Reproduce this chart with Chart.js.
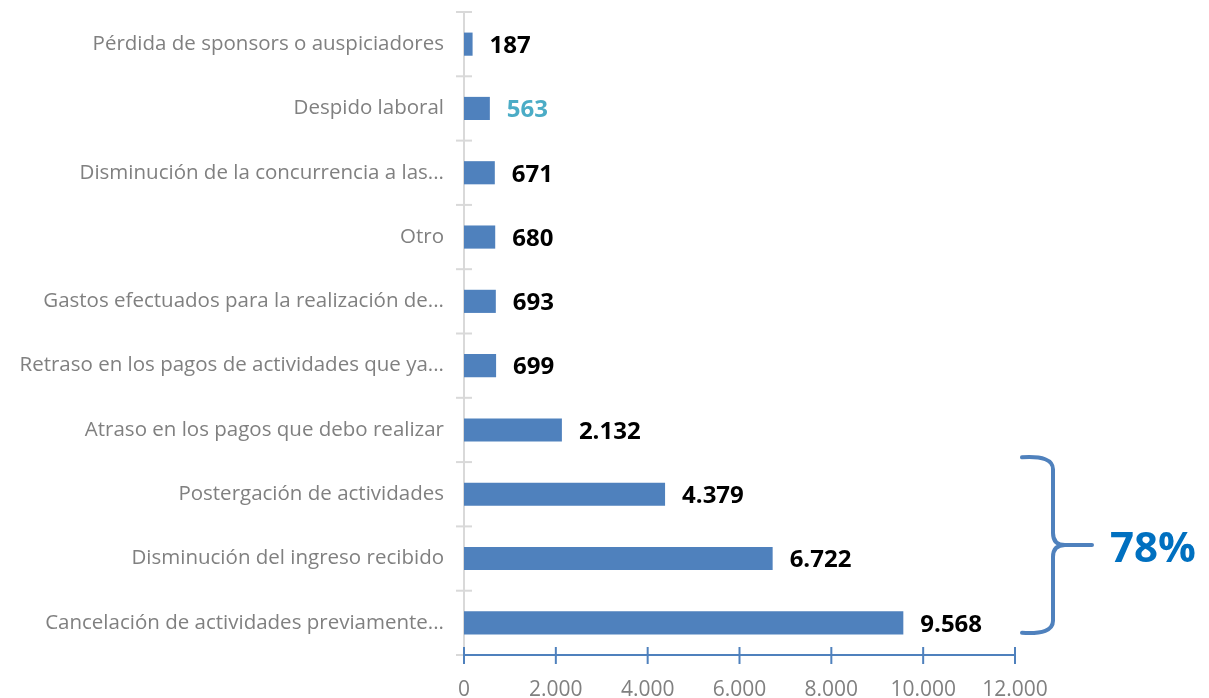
<!DOCTYPE html>
<html>
<head>
<meta charset="utf-8">
<script src="https://cdn.jsdelivr.net/npm/chart.js@4/dist/chart.umd.min.js"></script>
<style>
  html, body { margin: 0; padding: 0; background: #fff; }
  #wrap { width: 1209px; height: 698px; }
</style>
</head>
<body>
<div id="wrap"><canvas id="chart" width="1209" height="698"></canvas></div>
<script>
// categories, top to bottom
const categories = [
    "Pérdida de sponsors o auspiciadores",
    "Despido laboral",
    "Disminución de la concurrencia a las...",
    "Otro",
    "Gastos efectuados para la realización de...",
    "Retraso en los pagos de actividades que ya...",
    "Atraso en los pagos que debo realizar",
    "Postergación de actividades",
    "Disminución del ingreso recibido",
    "Cancelación de actividades previamente..."
];
const values = [187, 563, 671, 680, 693, 699, 2132, 4379, 6722, 9568];
const xTicks = [0, 2000, 4000, 6000, 8000, 10000, 12000];
const bracedShare = "78%";

const barBlue = '#4F81BD';
const axisGrey = '#D9D9D9';
const textGrey = '#808080';

function fmt(n) {
    return String(n).replace(/\B(?=(\d{3})+(?!\d))/g, '.');
}

// value labels beside bars
const valueLabels = {
    id: 'valueLabels',
    afterDatasetsDraw(chart) {
        const ctx = chart.ctx;
        const meta = chart.getDatasetMeta(0);
        ctx.save();
        ctx.font = 'bold 24px "Open Sans"';
        ctx.textAlign = 'left';
        ctx.textBaseline = 'middle';
        meta.data.forEach((bar, i) => {
            ctx.fillStyle = i === 1 ? '#4BACC6' : '#000';
            ctx.fillText(fmt(values[i]), bar.x + 17, bar.y + 2);
        });
        ctx.restore();
    }
};

// crossing tick marks on both axes
const crossTicks = {
    id: 'crossTicks',
    afterDraw(chart) {
        const ctx = chart.ctx;
        const x = chart.scales.x, y = chart.scales.y;
        ctx.save();
        ctx.lineWidth = 2;
        ctx.strokeStyle = axisGrey;
        const step = (y.bottom - y.top) / categories.length;
        for (let i = 0; i <= categories.length; i++) {
            const py = y.top + step * i;
            ctx.beginPath();
            ctx.moveTo(x.left - 8, py);
            ctx.lineTo(x.left + 8, py);
            ctx.stroke();
        }
        ctx.strokeStyle = barBlue;
        xTicks.forEach(v => {
            const px = x.getPixelForValue(v);
            ctx.beginPath();
            ctx.moveTo(px, y.bottom - 8);
            ctx.lineTo(px, y.bottom + 9);
            ctx.stroke();
        });
        ctx.beginPath();
        ctx.moveTo(x.left, y.bottom);
        ctx.lineTo(x.right, y.bottom);
        ctx.stroke();
        ctx.restore();
    }
};

// brace around the three largest bars
const brace = {
    id: 'brace',
    afterDraw(chart) {
        const ctx = chart.ctx;
        const x = chart.scales.x, y = chart.scales.y;
        const top = y.getPixelForValue(7) - 37;
        const bot = y.getPixelForValue(9) + 10;
        const mid = (top + bot) / 2;
        const x0 = x.right + 7, x1 = x0 + 31, tip = x0 + 70;
        ctx.save();
        ctx.strokeStyle = barBlue;
        ctx.lineWidth = 4;
        ctx.lineCap = 'round';
        ctx.beginPath();
        ctx.moveTo(x0, top);
        ctx.quadraticCurveTo(x1, top - 2, x1, top + 12);
        ctx.lineTo(x1, mid - 12);
        ctx.quadraticCurveTo(x1, mid, x1 + 12, mid);
        ctx.lineTo(tip, mid);
        ctx.moveTo(x1 + 12, mid);
        ctx.quadraticCurveTo(x1, mid, x1, mid + 12);
        ctx.lineTo(x1, bot - 12);
        ctx.quadraticCurveTo(x1, bot + 2, x0, bot);
        ctx.stroke();
        ctx.font = 'bold 42px "Open Sans"';
        ctx.fillStyle = '#0070C0';
        ctx.textAlign = 'center';
        ctx.textBaseline = 'middle';
        ctx.fillText(bracedShare, tip + 61, mid + 5);
        ctx.restore();
    }
};

new Chart(document.getElementById('chart'), {
    type: 'bar',
    data: {
        labels: categories,
        datasets: [{
            data: values,
            backgroundColor: barBlue,
            borderWidth: 0,
            barPercentage: 0.36,
            categoryPercentage: 1
        }]
    },
    options: {
        indexAxis: 'y',
        responsive: false,
        animation: false,
        layout: { padding: { top: 12, right: 194, left: 0, bottom: 0 } },
        plugins: { legend: { display: false }, tooltip: { enabled: false } },
        scales: {
            x: {
                min: 0,
                max: 12000,
                afterBuildTicks: (s) => { s.ticks = xTicks.map(v => ({ value: v })); },
                afterFit: (s) => { s.height = 43; s.paddingLeft = 0; s.paddingRight = 0; },
                grid: { display: false, drawOnChartArea: false },
                border: { display: false },
                ticks: {
                    color: textGrey,
                    font: { size: 21, family: '"Open Sans"' },
                    padding: 14,
                    callback: (v) => fmt(v)
                }
            },
            y: {
                afterFit: (s) => { s.width = 464; s.paddingTop = 0; s.paddingBottom = 0; },
                grid: { display: false },
                border: { color: axisGrey, width: 2 },
                ticks: {
                    color: textGrey,
                    font: { size: 20.5, family: '"Open Sans"' },
                    padding: 12
                }
            }
        }
    },
    plugins: [valueLabels, crossTicks, brace]
});
</script>
</body>
</html>
